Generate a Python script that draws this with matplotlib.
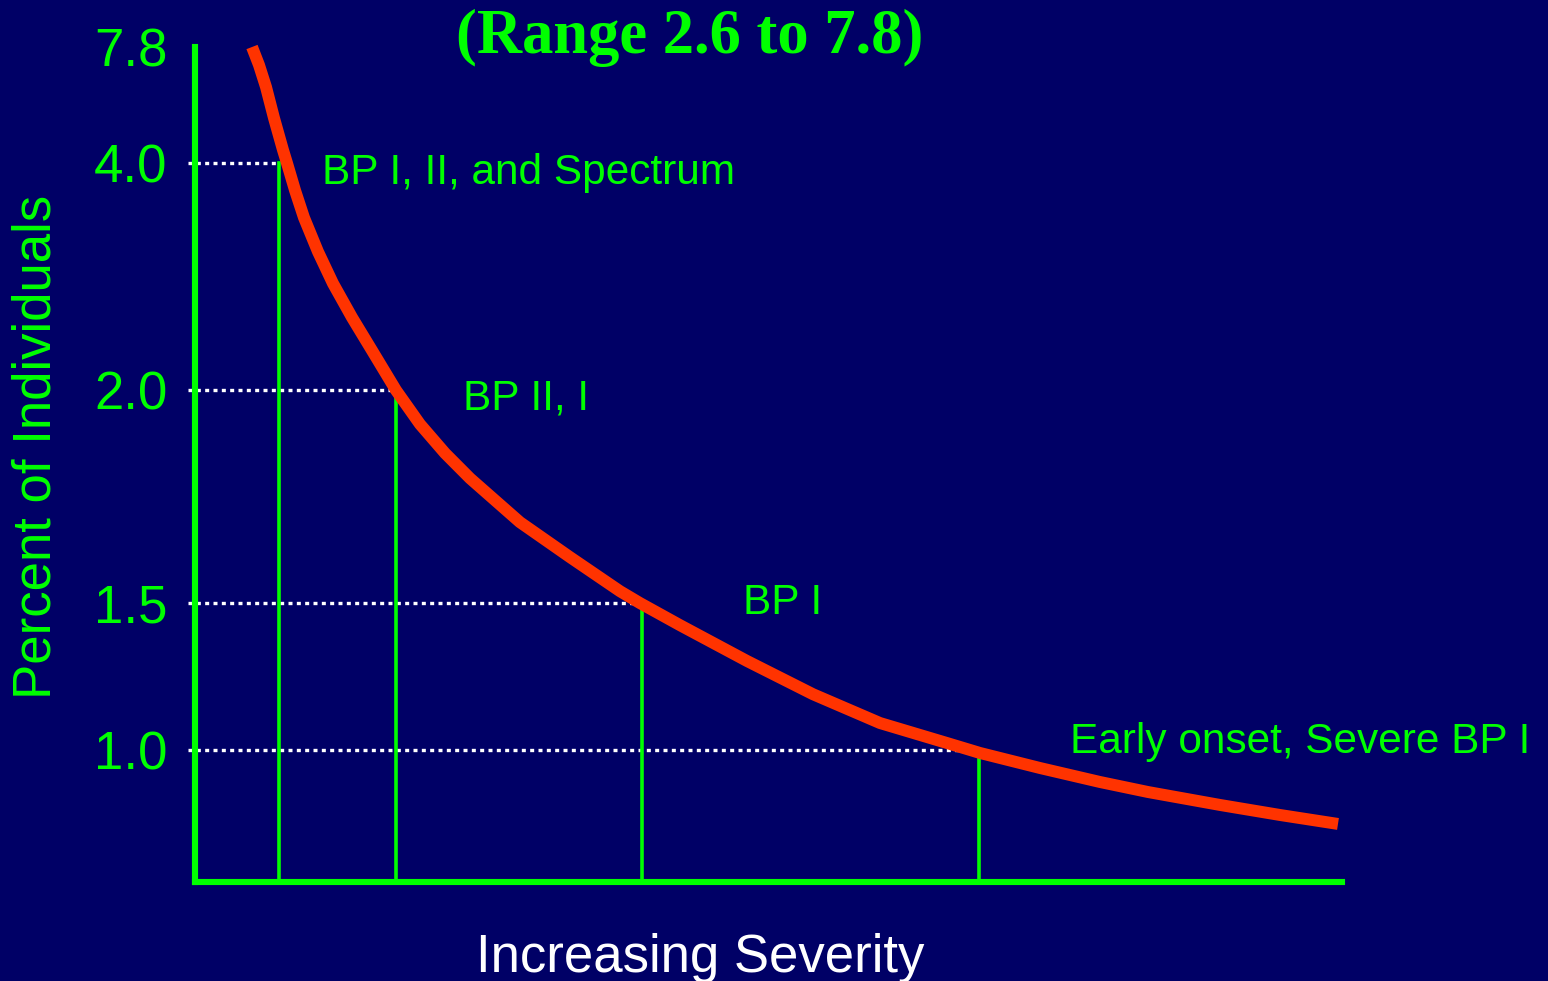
import numpy as np
import matplotlib
matplotlib.use("Agg")
import matplotlib.pyplot as plt

# ---- data ----
# severity runs 0..100 (arbitrary units), percent of individuals on the y axis
curve_x = [4.97, 5.58, 6.19, 6.89, 7.67, 8.02, 8.72, 9.5, 10.72, 12.03, 13.69,
           15.43, 17.52, 19.62, 21.8, 23.98, 28.33, 32.69, 37.05, 38.8, 42.28,
           48.13, 53.88, 59.72, 65.56, 68.44, 73.67, 78.9, 83.09, 89.36, 94.59,
           99.65]
curve_y = [7.8, 7.21, 6.49, 5.47, 4.43, 4.0, 3.76, 3.52, 3.22, 2.94, 2.64,
           2.35, 2.0, 1.92, 1.852, 1.793, 1.69, 1.608, 1.528, 1.5, 1.425,
           1.303, 1.19, 1.092, 1.024, 0.989, 0.932, 0.879, 0.841, 0.792, 0.754,
           0.72]

level_x = [7.32, 17.52, 38.97, 68.35]     # where the drop lines stand
level_y = [4.0, 2.0, 1.5, 1.0]
level_labels = ["BP I, II, and Spectrum", "BP II, I", "BP I", "Early onset, Severe BP I"]
label_x = [11.07, 23.37, 47.78, 76.29]
label_y = [3.815, 1.955, 1.463, 0.989]

yticks = [7.8, 4.0, 2.0, 1.5, 1.0]
ytick_labels = ["7.8", "4.0", "2.0", "1.5", "1.0"]

# the original y axis is drawn unevenly; map values onto it piecewise
scale_vals = [0.5, 1.0, 1.5, 2.0, 4.0, 7.8]
scale_pos = [0.0, 0.158, 0.334, 0.589, 0.861, 1.0]

def fwd(v):
    return np.interp(v, scale_vals, scale_pos)

def inv(p):
    return np.interp(p, scale_pos, scale_vals)

navy = "#000066"
green = "#00FF00"
red = "#FF3300"

fig = plt.figure(figsize=(15.48, 9.81), dpi=100, facecolor=navy)
ax = fig.add_axes([195/1548, 99/981, 1147/1548, 835/981])
ax.set_facecolor(navy)
ax.set_yscale("function", functions=(fwd, inv))
ax.set_xlim(0, 100)
ax.set_ylim(0.5, 7.8)

for s in ["top", "right"]:
    ax.spines[s].set_visible(False)
for s in ["left", "bottom"]:
    ax.spines[s].set_color(green)
    ax.spines[s].set_linewidth(4.4)

ax.set_xticks([])
ax.set_yticks(yticks)
ax.set_yticklabels(ytick_labels, fontfamily="Liberation Sans", fontsize=38, color=green)
ax.yaxis.set_minor_locator(matplotlib.ticker.NullLocator())
ax.tick_params(axis="y", length=0, pad=20)

# dotted guides and drop lines
for xv, yv in zip(level_x, level_y):
    ax.plot([-0.6, xv], [yv, yv], color="white", lw=2.4, linestyle=(0, (1.2, 1.3)),
            clip_on=False, zorder=2)
    ax.plot([xv, xv], [0.5, yv], color=green, lw=2.6, zorder=3)

ax.plot(curve_x, curve_y, color=red, lw=8.6, solid_capstyle="butt",
        solid_joinstyle="round", clip_on=False, zorder=4)

for t, xv, yv in zip(level_labels, label_x, label_y):
    ax.text(xv, yv, t, color=green, fontsize=30.5, fontfamily="Liberation Sans",
            ha="left", va="baseline")

fig.text(690/1548, 1 - 38/981, "(Range 2.6 to 7.8)", color=green, fontsize=45,
         fontfamily="Liberation Serif", fontweight="bold", ha="center", va="center")
fig.text(700/1548, 1 - 972/981, "Increasing Severity", color="white", fontsize=38,
         fontfamily="Liberation Sans", ha="center", va="baseline")
fig.text(37/1548, 1 - 447/981, "Percent of Individuals", color=green, fontsize=38,
         fontfamily="Liberation Sans", rotation=90, ha="center", va="center")

fig.savefig("out.png", dpi=100, facecolor=navy)
